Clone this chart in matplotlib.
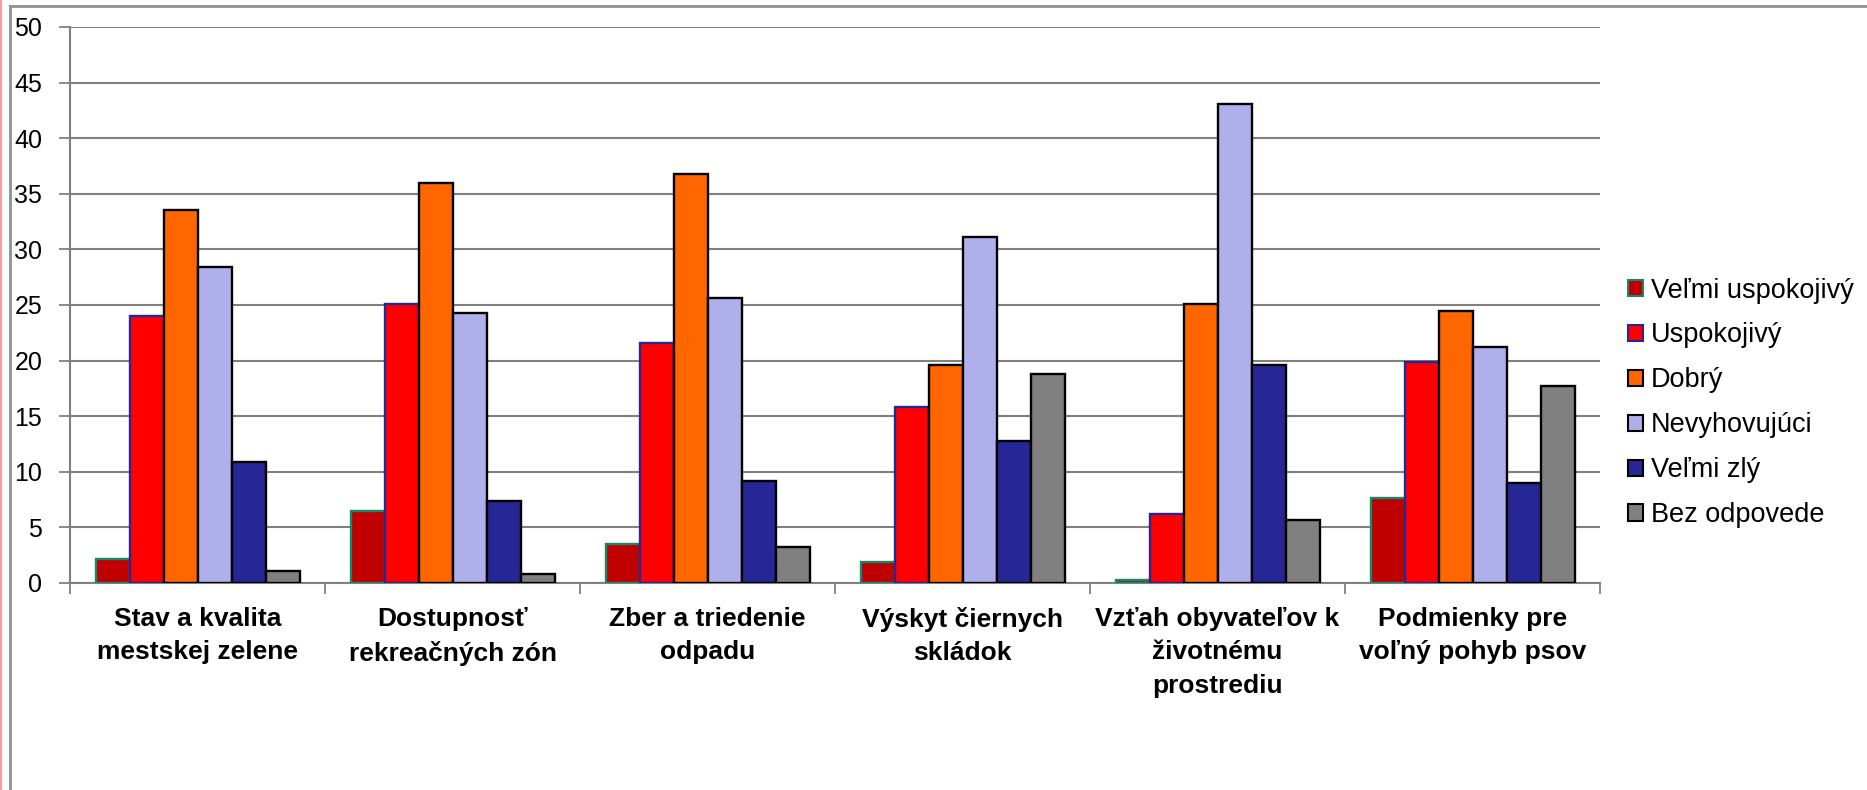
import numpy as np
import matplotlib
matplotlib.use("Agg")
import matplotlib.pyplot as plt
from matplotlib.lines import Line2D
from matplotlib.patches import Patch

plt.rcParams['font.family'] = ['Liberation Sans', 'DejaVu Sans']

# --- Data ---
categories = [
    "Stav a kvalita\nmestskej zelene",
    "Dostupnosť\nrekreačných zón",
    "Zber a triedenie\nodpadu",
    "Výskyt čiernych\nskládok",
    "Vzťah obyvateľov k\nživotnému\nprostrediu",
    "Podmienky pre\nvoľný pohyb psov",
]
series_names = ["Veľmi uspokojivý", "Uspokojivý", "Dobrý", "Nevyhovujúci", "Veľmi zlý", "Bez odpovede"]

velmi_uspokojivy = [2.2, 6.5, 3.5, 1.9, 0.3, 7.6]
uspokojivy       = [24.0, 25.1, 21.6, 15.8, 6.2, 19.9]
dobry            = [33.5, 36.0, 36.8, 19.6, 25.1, 24.5]
nevyhovujuci     = [28.4, 24.3, 25.6, 31.1, 43.1, 21.2]
velmi_zly        = [10.9, 7.4, 9.2, 12.8, 19.6, 9.0]
bez_odpovede     = [1.1, 0.8, 3.2, 18.8, 5.7, 17.7]

values = [velmi_uspokojivy, uspokojivy, dobry, nevyhovujuci, velmi_zly, bez_odpovede]
face_colors = ["#C00000", "#FF0000", "#FF6600", "#AFAFEB", "#262696", "#808080"]
edge_colors = ["#138a6a", "#262696", "black", "black", "black", "black"]

# --- Figure ---
fig = plt.figure(figsize=(18.67, 7.9), dpi=100)
ax = fig.add_axes([70 / 1867, 1 - 583 / 790, 1530 / 1867, 556 / 790])

x = np.arange(len(categories))
w = 0.8 / len(values)
for i, (vals, fc, ec) in enumerate(zip(values, face_colors, edge_colors)):
    ax.bar(x + (i - 2.5) * w, vals, width=w, color=fc, edgecolor=ec,
           linewidth=1.7, zorder=3)

ax.set_xlim(-0.5, len(categories) - 0.5)
ax.set_ylim(0, 50)
ax.set_yticks(np.arange(0, 51, 5))
ax.yaxis.grid(True, color="#808080", linewidth=1.5, zorder=0)

ax.set_xticks(x)
ax.set_xticklabels(categories, fontsize=19, fontweight="bold", linespacing=1.5)
ax.set_xticks(np.arange(-0.5, len(categories)), minor=True)
ax.tick_params(axis="x", which="major", length=0, pad=17)
ax.tick_params(axis="x", which="minor", length=8, width=1.3, color="#808080", direction="out")
ax.tick_params(axis="y", length=8, width=1.3, color="#808080", labelsize=18, pad=12)

for side in ["top", "right"]:
    ax.spines[side].set_visible(False)
for side in ["left", "bottom"]:
    ax.spines[side].set_color("#808080")
    ax.spines[side].set_linewidth(1.5)

# --- Legend ---
handles = [Patch(facecolor=fc, edgecolor=ec, linewidth=1.5)
           for fc, ec in zip(face_colors, edge_colors)]
fig.legend(handles, series_names, loc="center left", bbox_to_anchor=(1614 / 1867, 0.49),
           frameon=False, fontsize=19.5, handlelength=0.56, handleheight=0.56,
           handletextpad=0.3, labelspacing=0.7, borderpad=0)

# --- Outer frame lines ---
fig.add_artist(Line2D([10 / 1867, 10 / 1867], [0, 1 - 6 / 790], color="#909090", linewidth=2))
fig.add_artist(Line2D([10 / 1867, 1], [1 - 6 / 790, 1 - 6 / 790], color="#909090", linewidth=2))
fig.add_artist(Line2D([0.5 / 1867, 0.5 / 1867], [0, 1], color="#F0A0A0", linewidth=1.5))

fig.savefig("out.png", dpi=100)
